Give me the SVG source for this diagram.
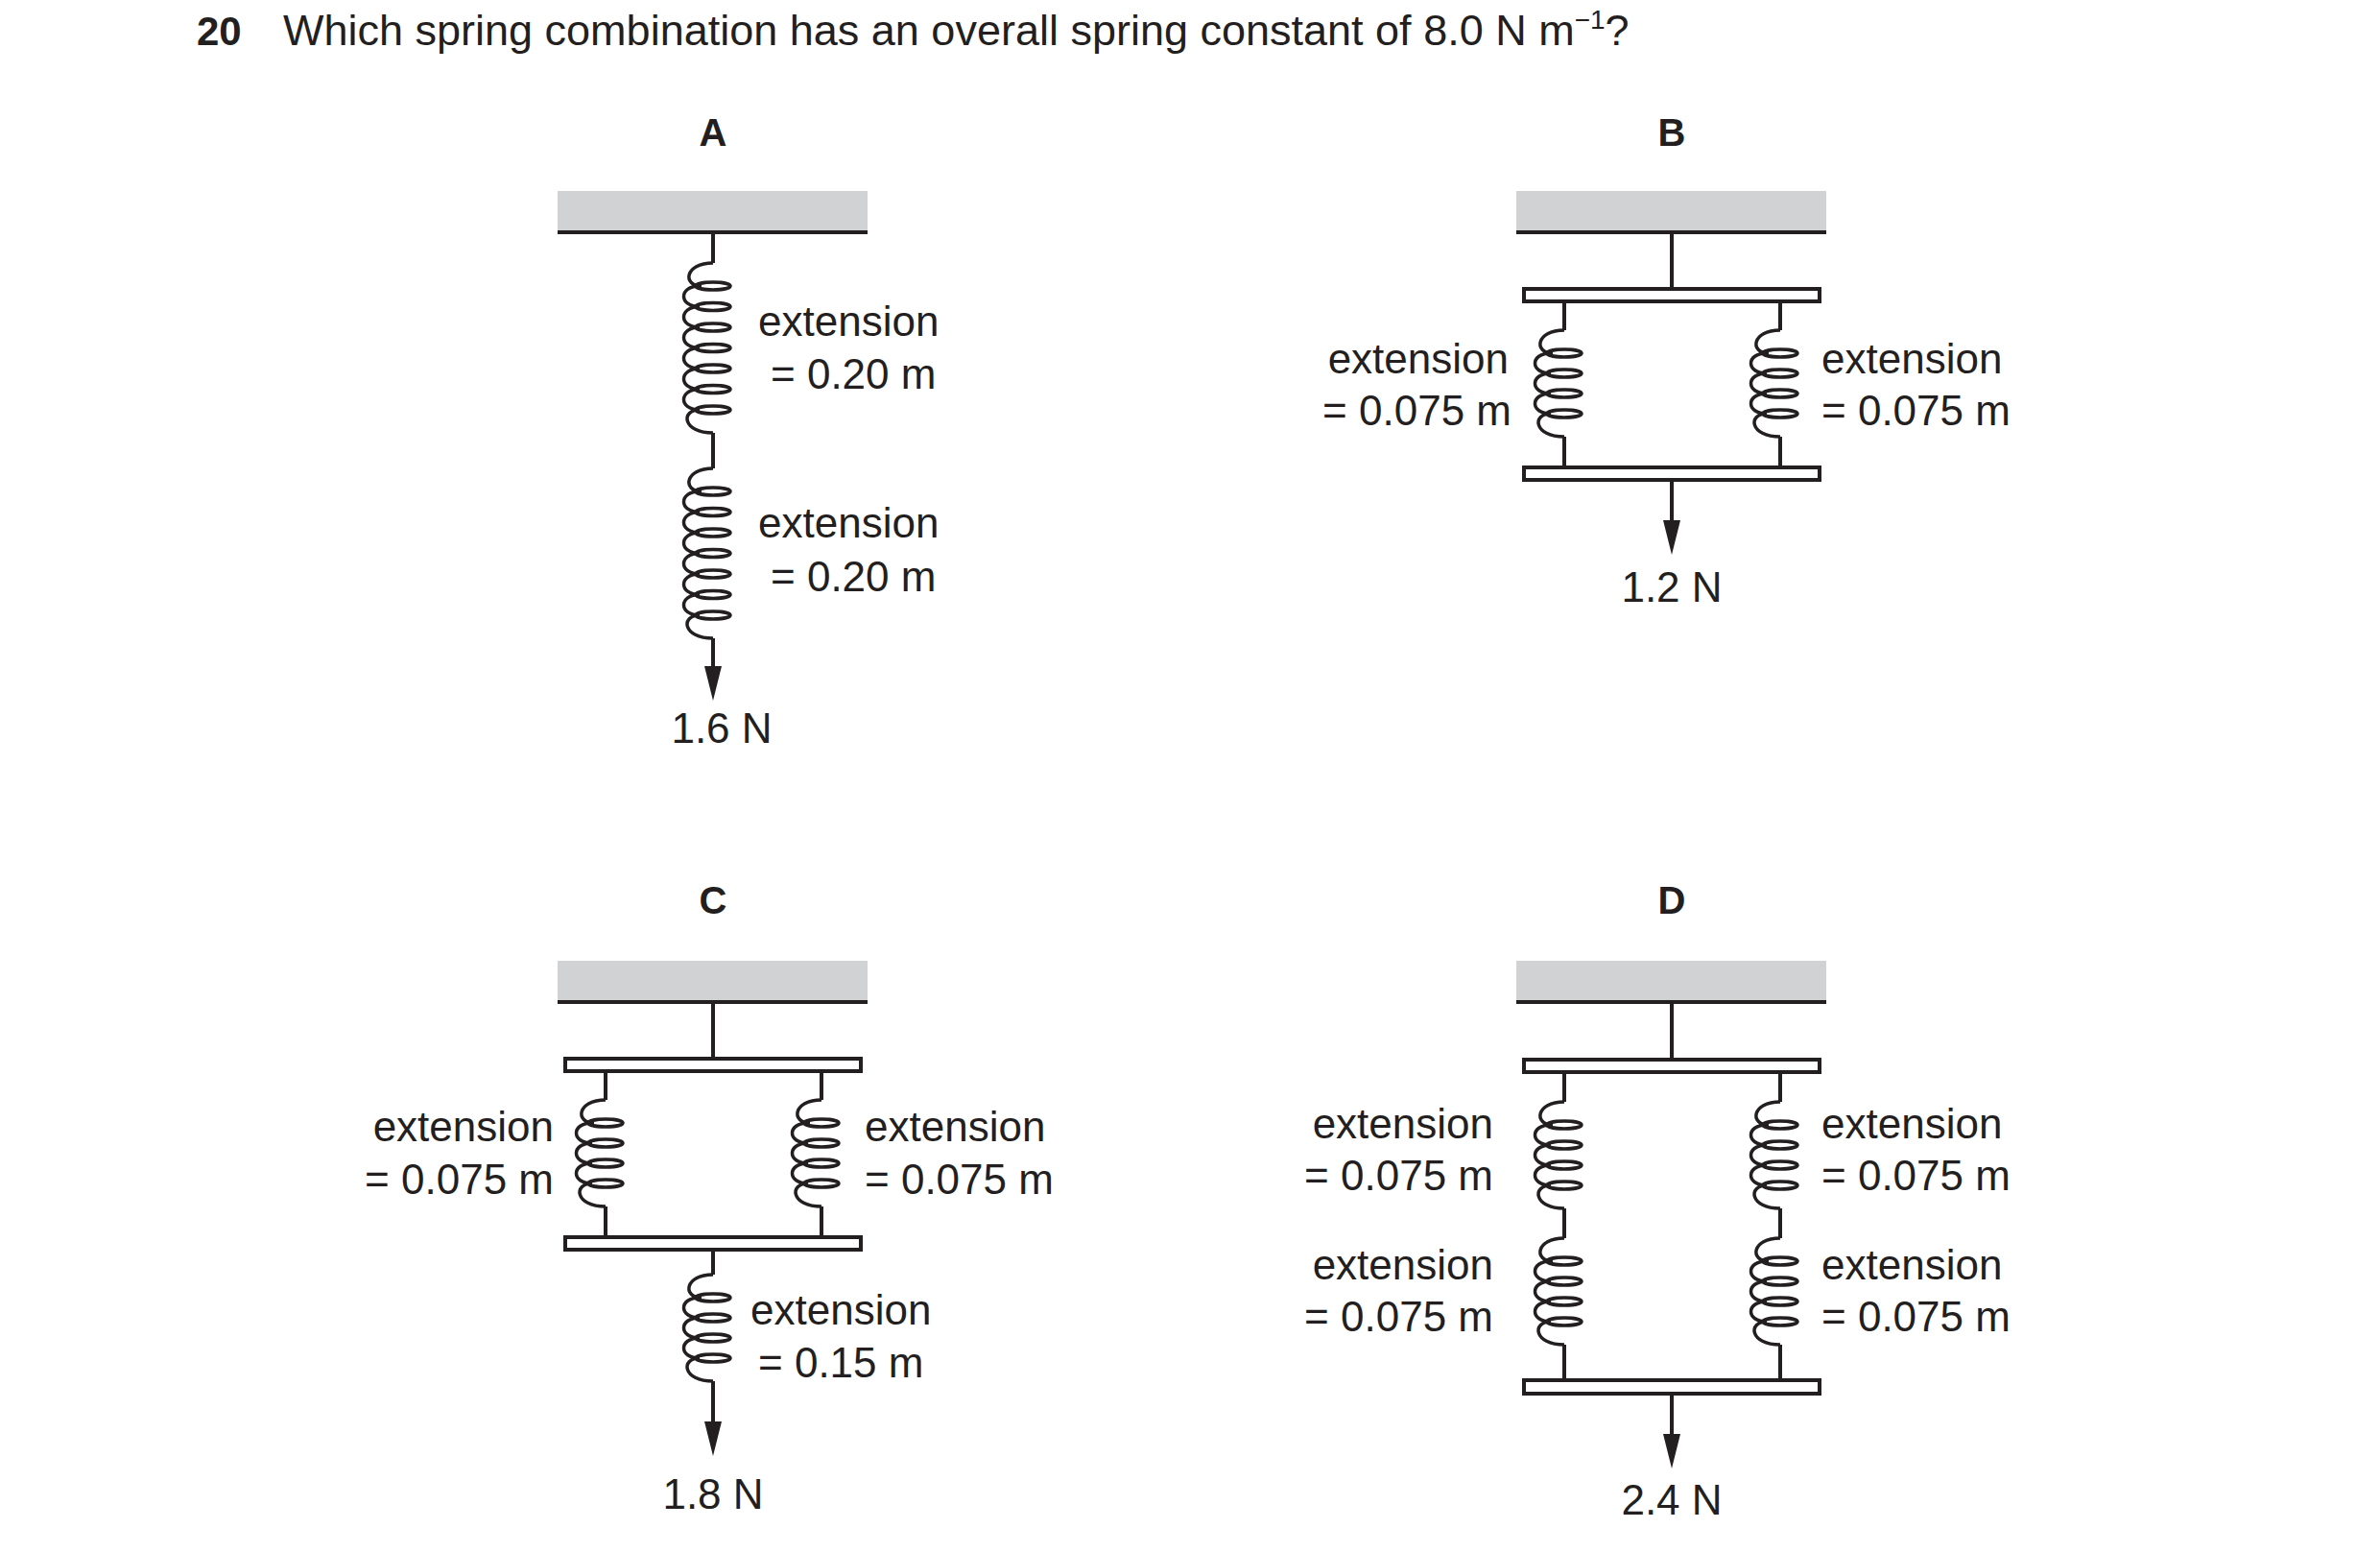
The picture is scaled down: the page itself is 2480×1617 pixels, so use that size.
<svg xmlns="http://www.w3.org/2000/svg" width="2480" height="1617" viewBox="0 0 2480 1617">
<style>
text{font-family:"Liberation Sans",Arial,sans-serif;fill:#231f20}
.t{font-size:44px}
.lab{font-size:40px;font-weight:bold;text-anchor:middle}
.ceil{fill:#d1d2d4}
.ln{stroke:#231f20;stroke-width:4;fill:none}
.pl{fill:#fff;stroke:#231f20;stroke-width:4}
.sp{stroke:#231f20;stroke-width:3.5;fill:none}
.e{text-anchor:end}
.m{text-anchor:middle}
</style>
<defs>
<g id="c4">
<path class="sp" d="M0,0 C-30,0 -32,24 -12,24 M-14,24 C-36,24 -36,45 -14,45 M-14,45 C-36,45 -36,66 -14,66 M-14,66 C-36,66 -36,87 -14,87 M-14,87 C-34,87 -32,111 0,111"/>
<ellipse class="sp" cx="0" cy="24" rx="18" ry="4"/><ellipse class="sp" cx="0" cy="45" rx="18" ry="4"/><ellipse class="sp" cx="0" cy="66" rx="18" ry="4"/><ellipse class="sp" cx="0" cy="87" rx="18" ry="4"/>
</g>
<g id="c7">
<path class="sp" d="M0,0 C-30,0 -32,24 -12,24 M-14,24 C-36,24 -36,45.5 -14,45.5 M-14,45.5 C-36,45.5 -36,67 -14,67 M-14,67 C-36,67 -36,88.5 -14,88.5 M-14,88.5 C-36,88.5 -36,110 -14,110 M-14,110 C-36,110 -36,131.5 -14,131.5 M-14,131.5 C-36,131.5 -36,153 -14,153 M-14,153 C-34,153 -32,177 0,177"/>
<ellipse class="sp" cx="0" cy="24" rx="18" ry="4"/><ellipse class="sp" cx="0" cy="45.5" rx="18" ry="4"/><ellipse class="sp" cx="0" cy="67" rx="18" ry="4"/><ellipse class="sp" cx="0" cy="88.5" rx="18" ry="4"/><ellipse class="sp" cx="0" cy="110" rx="18" ry="4"/><ellipse class="sp" cx="0" cy="131.5" rx="18" ry="4"/><ellipse class="sp" cx="0" cy="153" rx="18" ry="4"/>
</g>
<path id="ah" d="M-9,-36 L9,-36 L0,0 Z" fill="#231f20"/>
</defs>

<g id="title">
<text x="205" y="47" style="font-size:42px;font-weight:bold">20</text>
<text x="295" y="47" style="font-size:45px">Which spring combination has an overall spring constant of 8.0 N m<tspan dy="-17" style="font-size:28px">−1</tspan><tspan dy="17">?</tspan></text>
</g>

<g id="panelA">
<text class="lab" x="743" y="152">A</text>
<rect class="ceil" x="581" y="199" width="323" height="43"/>
<line class="ln" x1="581" y1="242" x2="904" y2="242"/>
<line class="ln" x1="743" y1="242" x2="743" y2="274"/>
<use href="#c7" x="743" y="274"/>
<line class="ln" x1="743" y1="451" x2="743" y2="488"/>
<use href="#c7" x="743" y="488"/>
<line class="ln" x1="743" y1="665" x2="743" y2="700"/>
<use href="#ah" x="743" y="730"/>
<text class="t" x="790" y="350">extension</text>
<text class="t" x="803" y="405">= 0.20 m</text>
<text class="t" x="790" y="560">extension</text>
<text class="t" x="803" y="616">= 0.20 m</text>
<text class="t m" x="752" y="774">1.6 N</text>
</g>

<g id="panelB">
<text class="lab" x="1742" y="152">B</text>
<rect class="ceil" x="1580" y="199" width="323" height="43"/>
<line class="ln" x1="1580" y1="242" x2="1903" y2="242"/>
<line class="ln" x1="1742" y1="242" x2="1742" y2="301"/>
<rect class="pl" x="1588" y="301" width="308" height="13"/>
<line class="ln" x1="1630" y1="314" x2="1630" y2="344"/>
<use href="#c4" x="1630" y="344"/>
<line class="ln" x1="1630" y1="455" x2="1630" y2="487"/>
<line class="ln" x1="1855" y1="314" x2="1855" y2="344"/>
<use href="#c4" x="1855" y="344"/>
<line class="ln" x1="1855" y1="455" x2="1855" y2="487"/>
<rect class="pl" x="1588" y="487" width="308" height="13"/>
<line class="ln" x1="1742" y1="500" x2="1742" y2="550"/>
<use href="#ah" x="1742" y="578"/>
<text class="t e" x="1572" y="389">extension</text>
<text class="t e" x="1575" y="443">= 0.075 m</text>
<text class="t" x="1898" y="389">extension</text>
<text class="t" x="1898" y="443">= 0.075 m</text>
<text class="t m" x="1742" y="627">1.2 N</text>
</g>

<g id="panelC">
<text class="lab" x="743" y="952">C</text>
<rect class="ceil" x="581" y="1001" width="323" height="43"/>
<line class="ln" x1="581" y1="1044" x2="904" y2="1044"/>
<line class="ln" x1="743" y1="1044" x2="743" y2="1103"/>
<rect class="pl" x="589" y="1103" width="308" height="13"/>
<line class="ln" x1="631" y1="1116" x2="631" y2="1146"/>
<use href="#c4" x="631" y="1146"/>
<line class="ln" x1="631" y1="1257" x2="631" y2="1289"/>
<line class="ln" x1="856" y1="1116" x2="856" y2="1146"/>
<use href="#c4" x="856" y="1146"/>
<line class="ln" x1="856" y1="1257" x2="856" y2="1289"/>
<rect class="pl" x="589" y="1289" width="308" height="13"/>
<line class="ln" x1="743" y1="1302" x2="743" y2="1328"/>
<use href="#c4" x="743" y="1328"/>
<line class="ln" x1="743" y1="1439" x2="743" y2="1490"/>
<use href="#ah" x="743" y="1517"/>
<text class="t e" x="577" y="1189">extension</text>
<text class="t e" x="577" y="1244">= 0.075 m</text>
<text class="t" x="901" y="1189">extension</text>
<text class="t" x="901" y="1244">= 0.075 m</text>
<text class="t" x="782" y="1380">extension</text>
<text class="t" x="790" y="1435">= 0.15 m</text>
<text class="t m" x="743" y="1572">1.8 N</text>
</g>

<g id="panelD">
<text class="lab" x="1742" y="952">D</text>
<rect class="ceil" x="1580" y="1001" width="323" height="43"/>
<line class="ln" x1="1580" y1="1044" x2="1903" y2="1044"/>
<line class="ln" x1="1742" y1="1044" x2="1742" y2="1104"/>
<rect class="pl" x="1588" y="1104" width="308" height="13"/>
<line class="ln" x1="1630" y1="1117" x2="1630" y2="1148"/>
<use href="#c4" x="1630" y="1148"/>
<line class="ln" x1="1630" y1="1259" x2="1630" y2="1290"/>
<use href="#c4" x="1630" y="1290"/>
<line class="ln" x1="1630" y1="1401" x2="1630" y2="1438"/>
<line class="ln" x1="1855" y1="1117" x2="1855" y2="1148"/>
<use href="#c4" x="1855" y="1148"/>
<line class="ln" x1="1855" y1="1259" x2="1855" y2="1290"/>
<use href="#c4" x="1855" y="1290"/>
<line class="ln" x1="1855" y1="1401" x2="1855" y2="1438"/>
<rect class="pl" x="1588" y="1438" width="308" height="14"/>
<line class="ln" x1="1742" y1="1452" x2="1742" y2="1500"/>
<use href="#ah" x="1742" y="1530"/>
<text class="t e" x="1556" y="1186">extension</text>
<text class="t e" x="1556" y="1240">= 0.075 m</text>
<text class="t e" x="1556" y="1333">extension</text>
<text class="t e" x="1556" y="1387">= 0.075 m</text>
<text class="t" x="1898" y="1186">extension</text>
<text class="t" x="1898" y="1240">= 0.075 m</text>
<text class="t" x="1898" y="1333">extension</text>
<text class="t" x="1898" y="1387">= 0.075 m</text>
<text class="t m" x="1742" y="1578">2.4 N</text>
</g>
</svg>
